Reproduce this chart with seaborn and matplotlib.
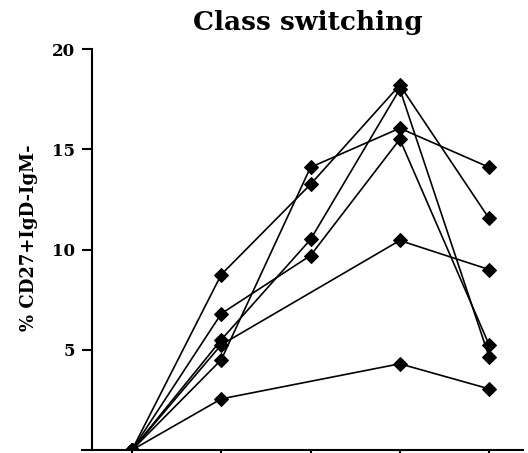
import pandas as pd
import matplotlib
matplotlib.use('Agg')
import matplotlib.pyplot as plt
import seaborn as sns

# time points (unlabelled on the x axis) and one series per subject
timepoints = [0, 1, 2, 3, 4]
subj_a = [0.0, 4.5, 14.1, 16.05, 14.1]
subj_b = [0.0, 8.75, 13.25, 18.2, 11.55]
subj_c = [0.0, 5.5, 10.5, 18.0, 4.65]
subj_d = [0.0, 6.8, 9.7, 15.5, 5.25]
subj_e = [0.0, 5.25, None, 10.45, 9.0]
subj_f = [0.0, 2.55, None, 4.3, 3.05]
subjects = {'A': subj_a, 'B': subj_b, 'C': subj_c,
            'D': subj_d, 'E': subj_e, 'F': subj_f}
yticks = [5, 10, 15, 20]

rows = []
for name, vals in subjects.items():
    for t, v in zip(timepoints, vals):
        if v is not None:
            rows.append({'subject': name, 'time': t, 'pct': v})
df = pd.DataFrame(rows)

sns.set_style('white')
plt.rcParams['font.family'] = ['DejaVu Serif']
plt.rcParams['font.weight'] = 'bold'
plt.rcParams['text.color'] = 'black'
plt.rcParams['axes.labelcolor'] = 'black'
plt.rcParams['xtick.color'] = 'black'
plt.rcParams['ytick.color'] = 'black'

fig = plt.figure(figsize=(5.28, 4.53), dpi=100)
ax = fig.add_axes([92 / 528, 3 / 453, 431 / 528, 401 / 453])

sns.lineplot(data=df, x='time', y='pct', units='subject', estimator=None,
             color='black', marker='D', markersize=7, markeredgecolor='black',
             linewidth=1.2, ax=ax, legend=False)

ax.set_xlim(-0.448, 4.38)
ax.set_ylim(0, 20)
ax.set_xticks(timepoints)
ax.set_xticklabels([])
ax.set_yticks(yticks)
ax.set_yticklabels([str(t) for t in yticks], fontsize=12, fontweight='bold')
ax.set_xlabel('')
ax.set_ylabel('% CD27+IgD-IgM-', fontsize=13, fontweight='bold')
ax.yaxis.set_label_coords(-0.125, 0.53)
ax.set_title('Class switching', fontsize=19, fontweight='bold', pad=14,
             color='black')

for side in ['top', 'right']:
    ax.spines[side].set_visible(False)
for side in ['left', 'bottom']:
    ax.spines[side].set_linewidth(1.5)
    ax.spines[side].set_color('black')
ax.spines['bottom'].set_bounds(-0.56, 4.38)
ax.tick_params(axis='both', direction='out', length=7, width=1.5,
               color='black', labelcolor='black', left=True, bottom=True, pad=5)

fig.savefig('out.png', dpi=100)
